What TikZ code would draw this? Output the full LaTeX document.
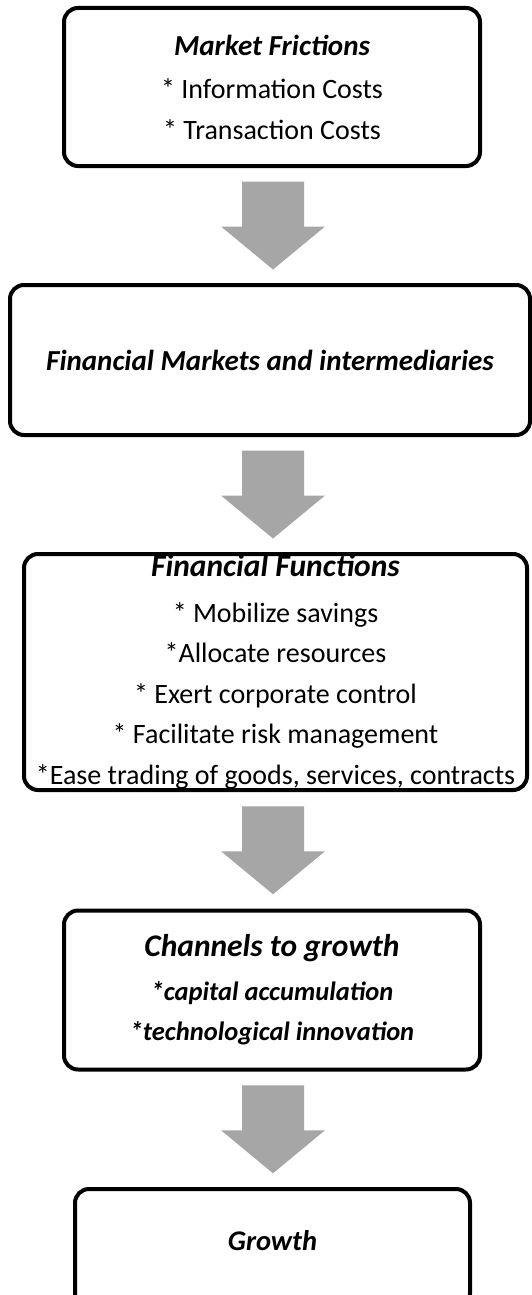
\documentclass[tikz,border=0pt]{standalone}
\usepackage{fontspec}
\setmainfont{Carlito}
\usetikzlibrary{calc}

\definecolor{arrowgray}{HTML}{A6A6A6}

\tikzset{
  stage/.style={draw, line width=4pt, rounded corners=14pt, align=center,
    inner sep=0pt, font=\fontsize{28}{40.5}\selectfont},
}
\newcommand{\hd}[2][28]{{\fontsize{#1}{40.5}\selectfont\bfseries\itshape #2}}

\begin{document}
\begin{tikzpicture}[x=1pt,y=1pt]
\useasboundingbox (0,0) rectangle (532,-1295);
\coordinate (mid) at (273,0);

% the five stages, top to bottom
\node[stage, minimum width=416pt, minimum height=158pt] (fric) at (272,-87)
  {\hd[29]{Market Frictions}\\[3pt] * Information Costs\\ * Transaction Costs};
\node[stage, minimum width=520pt, minimum height=150pt] (mkts) at (270,-360)
  {\hd[29]{Financial Markets and intermediaries}};
\node[stage, minimum width=503pt, minimum height=236pt] (func) at (275.5,-672)
  {\hd[31.5]{Financial Functions}\\[5pt] * Mobilize savings\\ *Allocate resources\\
   * Exert corporate control\\ * Facilitate risk management\\
   *Ease trading of goods, services, contracts};
\node[stage, minimum width=416pt, minimum height=159pt] (chan) at (272,-990)
  {\hd[31.5]{Channels to growth}\\[3pt] \hd[26.5]{*capital accumulation}\\
   \hd[26.5]{*technological innovation}};
% last box runs past the lower edge
\node[stage, minimum width=395pt, minimum height=118pt, text depth=15pt]
  (grow) at (272.5,-1248) {\hd[28.5]{Growth}};

% block arrows between the stages
\foreach \a/\b in {fric/mkts, mkts/func, func/chan, chan/grow}{
  \coordinate (m) at ($(\a.south -| mid)!0.5!(\b.north -| mid)$);
  \fill[arrowgray] ($(m)+(-31,44)$) -- ++(62,0) -- ++(0,-45) -- ++(21,0)
    -- ++(-52,-43) -- ++(-52,43) -- ++(21,0) -- cycle;
}
\end{tikzpicture}
\end{document}
